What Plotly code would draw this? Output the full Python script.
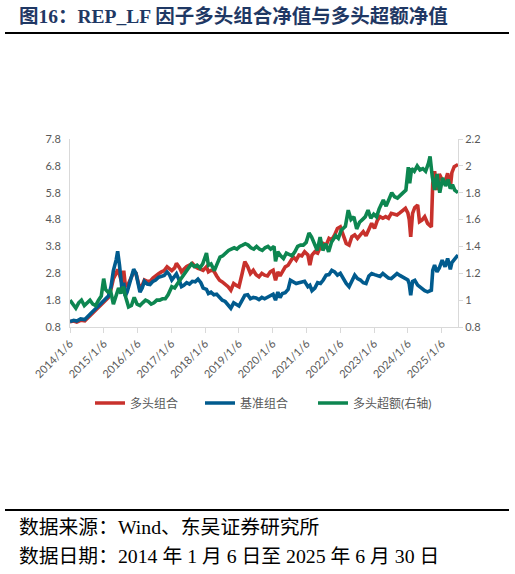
import plotly.graph_objects as go

# ---------------- data ----------------
long_dates = ["2014-01-06","2014-02-15","2014-03-20","2014-05-01","2014-06-15","2014-07-20","2014-09-01","2014-10-15","2014-11-20","2014-12-20",
              "2015-01-20","2015-02-25","2015-03-25","2015-04-20","2015-05-20","2015-06-05","2015-06-25","2015-07-10","2015-07-25","2015-08-10",
              "2015-08-25","2015-09-15","2015-10-10","2015-11-05","2015-11-25","2015-12-20","2016-01-15","2016-02-01","2016-02-25","2016-03-20",
              "2016-04-20","2016-05-20","2016-06-20","2016-07-20","2016-08-20","2016-09-20","2016-10-20","2016-11-20","2016-12-15","2017-01-10",
              "2017-02-10","2017-03-01","2017-04-05","2017-04-25","2017-05-20","2017-06-20","2017-07-20","2017-08-20","2017-09-20","2017-10-20",
              "2017-11-20","2017-12-15","2018-01-20","2018-02-10","2018-03-10","2018-04-10","2018-05-10","2018-06-10","2018-07-10","2018-08-10",
              "2018-09-10","2018-10-10","2018-11-10","2018-12-10","2019-01-06","2019-02-10","2019-03-10","2019-04-10","2019-05-10","2019-06-10",
              "2019-07-10","2019-08-10","2019-09-10","2019-10-10","2019-11-10","2019-12-10","2020-01-10","2020-02-05","2020-03-01","2020-03-25",
              "2020-04-20","2020-05-20","2020-06-20","2020-07-15","2020-08-15","2020-09-15","2020-10-15","2020-11-15","2020-12-15","2021-01-20",
              "2021-02-10","2021-03-05","2021-04-05","2021-05-05","2021-06-05","2021-07-05","2021-08-05","2021-09-05","2021-10-05","2021-11-05",
              "2021-12-05","2022-01-05","2022-02-05","2022-03-10","2022-04-10","2022-05-10","2022-06-10","2022-07-10","2022-08-10","2022-09-10",
              "2022-10-10","2022-11-10","2022-12-10","2023-01-10","2023-02-10","2023-03-10","2023-04-10","2023-05-10","2023-06-10","2023-07-10",
              "2023-08-10","2023-09-10","2023-10-10","2023-11-10","2023-12-10","2024-01-05","2024-01-20","2024-02-05","2024-02-25","2024-03-20",
              "2024-04-20","2024-05-10","2024-06-05","2024-07-05","2024-08-05","2024-09-15","2024-09-30","2024-10-20","2024-11-15","2024-12-10",
              "2025-01-10","2025-02-10","2025-03-10","2025-04-08","2025-04-25","2025-05-20","2025-06-30"]

long_vals = [1.00,1.02,0.98,1.05,1.03,1.15,1.28,1.42,1.55,1.65,
             1.75,1.90,2.20,2.60,2.80,2.95,2.75,2.55,2.40,2.90,
             2.40,2.30,2.50,2.70,2.85,2.80,2.40,2.20,2.35,2.55,
             2.50,2.50,2.62,2.68,2.78,2.85,2.90,3.04,2.95,2.90,
             3.00,3.17,3.00,2.85,2.95,3.05,3.10,3.17,3.05,2.98,
             2.95,2.91,3.04,2.85,2.91,2.88,2.70,2.54,2.48,2.40,
             2.30,2.17,2.42,2.35,2.30,2.80,3.23,3.05,2.79,2.91,
             2.75,2.67,2.80,2.73,2.70,2.85,2.91,2.54,2.85,2.70,
             2.85,3.04,3.10,3.25,3.41,3.29,3.48,3.45,3.60,3.48,
             3.10,3.48,3.60,3.55,3.79,3.91,3.85,4.10,4.04,4.23,
             4.47,4.53,4.25,3.91,3.85,4.16,4.23,4.10,4.23,4.35,
             4.20,4.41,4.66,4.47,4.78,4.91,4.85,4.91,4.85,5.03,
             5.00,4.97,5.05,5.15,5.22,5.05,4.80,4.16,5.03,5.25,
             5.34,4.72,4.78,4.91,4.66,4.53,6.15,6.60,5.90,6.50,
             6.27,6.21,6.52,6.00,6.55,6.77,6.85]

bench_dates = long_dates
bench_vals = [1.00,1.05,1.02,1.10,1.08,1.22,1.35,1.50,1.62,1.70,
              1.80,1.95,2.30,2.90,3.30,3.62,3.10,2.50,2.10,2.45,
              1.95,2.10,2.40,2.75,2.95,2.80,2.30,2.10,2.25,2.50,
              2.40,2.38,2.50,2.55,2.65,2.70,2.72,2.85,2.75,2.55,
              2.70,2.78,2.50,2.30,2.35,2.45,2.40,2.50,2.48,2.58,
              2.45,2.25,2.20,2.05,2.10,2.00,2.02,1.90,1.80,1.75,
              1.62,1.50,1.70,1.65,1.58,1.80,1.98,2.00,1.85,1.90,
              1.88,1.82,1.90,1.85,1.90,1.98,2.02,1.80,2.10,1.90,
              2.05,2.08,2.20,2.54,2.48,2.42,2.45,2.48,2.50,2.30,
              2.35,2.15,2.25,2.45,2.42,2.55,2.73,2.75,2.91,2.85,
              2.73,2.80,2.60,2.42,2.30,2.55,2.73,2.60,2.55,2.45,
              2.42,2.70,2.79,2.75,2.73,2.68,2.79,2.70,2.62,2.60,
              2.70,2.79,2.72,2.67,2.62,2.55,2.40,1.98,2.50,2.54,
              2.36,2.30,2.23,2.15,2.11,2.17,2.91,3.10,2.85,3.00,
              3.29,3.04,3.35,2.95,3.20,3.30,3.48]

excess_dates = ["2014-01-06","2014-02-10","2014-03-10","2014-04-10","2014-05-10","2014-06-10","2014-07-10","2014-08-10","2014-09-10","2014-10-10",
                "2014-11-10","2014-12-10","2015-01-05","2015-01-25","2015-02-20","2015-03-20","2015-04-20","2015-05-20","2015-06-15","2015-07-10",
                "2015-08-05","2015-09-01","2015-10-01","2015-11-01","2015-12-01","2016-01-01","2016-02-01","2016-03-01","2016-04-01","2016-05-01",
                "2016-06-01","2016-07-01","2016-08-01","2016-09-01","2016-10-01","2016-11-01","2016-12-01","2017-01-10","2017-02-10","2017-03-10",
                "2017-04-10","2017-05-10","2017-06-10","2017-07-10","2017-08-10","2017-09-10","2017-10-10","2017-11-10","2017-12-10","2018-01-20",
                "2018-02-10","2018-03-10","2018-04-15","2018-05-15","2018-06-15","2018-07-15","2018-08-15","2018-09-15","2018-10-15","2018-11-15",
                "2018-12-15","2019-01-15","2019-02-15","2019-03-15","2019-04-15","2019-05-15","2019-06-15","2019-07-15","2019-08-15","2019-09-15",
                "2019-10-15","2019-11-15","2019-12-15","2020-01-20","2020-02-05","2020-03-01","2020-04-01","2020-05-01","2020-06-01","2020-07-01",
                "2020-08-01","2020-09-01","2020-10-01","2020-11-01","2020-12-01","2021-01-01","2021-02-01","2021-03-01","2021-04-01","2021-05-01",
                "2021-06-01","2021-07-01","2021-08-01","2021-09-01","2021-10-01","2021-11-15","2021-12-15","2022-01-15","2022-03-01","2022-04-01",
                "2022-05-01","2022-06-01","2022-07-01","2022-08-01","2022-09-01","2022-10-01","2022-11-01","2022-12-01","2023-01-01","2023-02-01",
                "2023-03-01","2023-04-15","2023-05-15","2023-06-15","2023-07-15","2023-08-15","2023-09-15","2023-10-15","2023-11-15","2023-12-15",
                "2024-01-10","2024-01-25","2024-02-15","2024-03-15","2024-04-15","2024-05-15","2024-06-15","2024-07-15","2024-08-15","2024-09-01",
                "2024-09-25","2024-10-20","2024-11-15","2024-12-15","2025-01-15","2025-02-15","2025-03-15","2025-04-08","2025-05-01","2025-05-25",
                "2025-06-30"]

excess_vals = [1.00,0.97,0.94,0.98,1.00,0.96,0.98,1.00,0.97,0.96,
               1.00,1.03,1.16,1.08,1.06,1.07,0.97,1.04,1.09,1.05,
               1.10,1.02,0.95,0.96,1.02,0.97,0.96,0.98,1.00,0.99,
               0.97,0.98,1.00,1.00,1.01,1.01,1.04,1.10,1.09,1.12,
               1.15,1.19,1.22,1.24,1.27,1.25,1.26,1.24,1.27,1.35,
               1.26,1.27,1.22,1.27,1.32,1.33,1.35,1.37,1.38,1.39,
               1.38,1.40,1.41,1.42,1.41,1.39,1.38,1.40,1.38,1.37,
               1.39,1.40,1.38,1.40,1.29,1.36,1.33,1.31,1.35,1.34,
               1.33,1.36,1.40,1.41,1.41,1.43,1.50,1.47,1.42,1.37,
               1.47,1.37,1.42,1.36,1.43,1.48,1.46,1.52,1.55,1.67,
               1.60,1.62,1.53,1.58,1.60,1.62,1.67,1.61,1.64,1.62,
               1.68,1.745,1.70,1.76,1.80,1.77,1.76,1.78,1.80,1.82,
               1.99,1.87,1.98,1.96,2.00,1.97,1.98,1.96,2.02,2.07,
               1.92,1.82,1.94,1.80,1.91,1.85,1.90,1.83,1.86,1.82,
               1.80]

series_names = ["多头组合", "基准组合", "多头超额(右轴)"]
series_colors = ["#C8312C", "#015B8E", "#0D8650"]

x_tick_vals = ["%d-01-06" % y for y in range(2014, 2026)]
x_tick_text = ["%d/1/6" % y for y in range(2014, 2026)]
left_ticks = [0.8, 1.8, 2.8, 3.8, 4.8, 5.8, 6.8, 7.8]
left_text = ["0.8", "1.8", "2.8", "3.8", "4.8", "5.8", "6.8", "7.8"]
right_ticks = [0.8, 1.0, 1.2, 1.4, 1.6, 1.8, 2.0, 2.2]
right_text = ["0.8", "1", "1.2", "1.4", "1.6", "1.8", "2", "2.2"]

title_text = "图16：REP_LF 因子多头组合净值与多头超额净值"
source_line1 = "数据来源：Wind、东吴证券研究所"
source_line2 = "数据日期：2014 年 1 月 6 日至 2025 年 6 月 30 日"

# ---------------- figure ----------------
W, H = 515, 574
L, R, T, B = 70, 57, 139, 247
pw, ph = W - L - R, H - T - B


def px(xpix):
    return (xpix - L) / pw


def py(ypix):
    return (H - B - ypix) / ph


fig = go.Figure()
fig.add_trace(go.Scatter(x=long_dates, y=long_vals, name=series_names[0], mode="lines",
                         line=dict(color=series_colors[0], width=3.6), legend="legend"))
fig.add_trace(go.Scatter(x=bench_dates, y=bench_vals, name=series_names[1], mode="lines",
                         line=dict(color=series_colors[1], width=3.6), legend="legend2"))
fig.add_trace(go.Scatter(x=excess_dates, y=excess_vals, name=series_names[2], mode="lines",
                         line=dict(color=series_colors[2], width=3.6), yaxis="y2", legend="legend3"))

tick_font = dict(family="Lato, Noto Sans CJK SC, sans-serif", size=11, color="#595959")
leg_font = dict(family="Lato, Noto Sans CJK SC, sans-serif", size=12, color="#595959")


def leg(xpix):
    return dict(orientation="h", x=px(xpix), xanchor="left", y=py(403), yanchor="middle",
                font=leg_font, bgcolor="rgba(0,0,0,0)", borderwidth=0)


fig.update_layout(
    width=W, height=H,
    margin=dict(l=L, r=R, t=T, b=B, pad=0),
    paper_bgcolor="white", plot_bgcolor="white",
    showlegend=True,
    legend=leg(90), legend2=leg(200), legend3=leg(313),
    xaxis=dict(type="date", range=["2014-01-06", "2025-06-30"],
               tickvals=x_tick_vals, ticktext=x_tick_text, tickangle=-45,
               tickfont=tick_font, showgrid=False, zeroline=False,
               showline=True, linecolor="#D9D9D9", linewidth=1,
               ticks="outside", ticklen=5, tickcolor="#D9D9D9"),
    yaxis=dict(range=[0.8, 7.8], tickvals=left_ticks, ticktext=left_text,
               tickfont=tick_font, showgrid=False, zeroline=False,
               showline=True, linecolor="#D9D9D9", linewidth=1, ticks="", ticklabelstandoff=6),
    yaxis2=dict(range=[0.8, 2.2], tickvals=right_ticks, ticktext=right_text, overlaying="y", side="right",
                tickfont=tick_font, showgrid=False, zeroline=False,
                showline=True, linecolor="#D9D9D9", linewidth=1,
                ticks="outside", ticklen=4, tickcolor="#D9D9D9"),
)

# header / footer rules
fig.add_shape(type="line", xref="paper", yref="paper", x0=px(5), x1=px(509), y0=py(33), y1=py(33),
              line=dict(color="black", width=2.2))
fig.add_shape(type="line", xref="paper", yref="paper", x0=px(5), x1=px(509), y0=py(510), y1=py(510),
              line=dict(color="black", width=2.2))

fig.add_annotation(text="<b>" + title_text + "</b>", xref="paper", yref="paper",
                   x=px(17), y=py(17), xanchor="left", yanchor="middle", showarrow=False,
                   font=dict(family="Liberation Serif, Noto Sans CJK SC, serif", size=19.5, color="#1F3864"))
fig.add_annotation(text=source_line1, xref="paper", yref="paper",
                   x=px(17), y=py(527), xanchor="left", yanchor="middle", showarrow=False,
                   font=dict(family="Liberation Serif, Noto Sans CJK SC, serif", size=19.8, color="black"))
fig.add_annotation(text=source_line2, xref="paper", yref="paper",
                   x=px(17), y=py(556), xanchor="left", yanchor="middle", showarrow=False,
                   font=dict(family="Liberation Serif, Noto Sans CJK SC, serif", size=19.8, color="black"))

fig.write_html("out.html")
